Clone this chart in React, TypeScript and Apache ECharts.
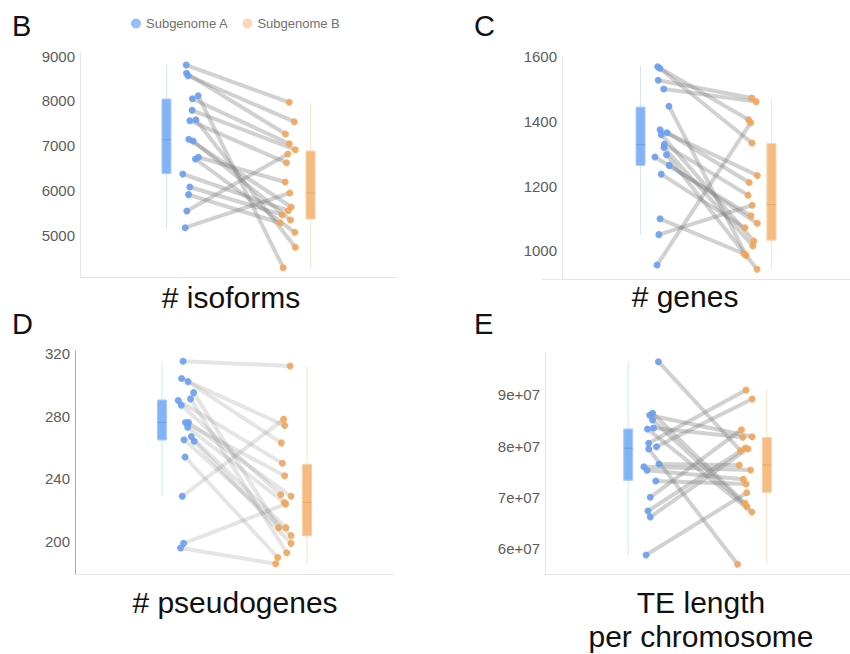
import React, { useEffect, useRef } from "react";
import * as echarts from "echarts";

// ---------- data ----------
const legendNames = ["Subgenome A", "Subgenome B"];
const categoryX = [0, 1];

// # isoforms
const isoformsA = [8799, 8613, 8560, 8047, 8114, 7787, 7556, 7578, 7140, 7103, 6701, 6739, 6366, 6076, 5905, 5540, 5168];
const isoformsB = [7966, 7259, 7534, 7042, 4275, 6908, 6618, 4730, 5629, 5339, 5065, 6188, 5547, 5458, 5272, 6812, 5942];
const isoformsJitterA = [0.137, 0.139, 0.15, 0.18, 0.22, 0.178, 0.162, 0.204, 0.155, 0.185, 0.201, 0.222, 0.113, 0.162, 0.153, 0.141, 0.13];
const isoformsJitterB = [-0.148, -0.174, -0.113, -0.148, -0.19, -0.106, -0.167, -0.106, -0.134, -0.139, -0.109, -0.176, -0.155, -0.197, -0.211, -0.158, -0.144];
const isoformsBoxA = [5160, 6373, 7132, 8040, 8800];
const isoformsBoxB = [4268, 5362, 5942, 6879, 7951];
const isoformsTicks = [5000, 6000, 7000, 8000, 9000];

// # genes
const genesA = [1569, 1564, 1527, 1500, 1447, 1374, 1359, 1365, 1329, 1319, 1297, 1290, 1264, 1237, 1099, 1050, 956];
const genesB = [1405, 1333, 1472, 1461, 986, 1233, 1030, 1211, 1172, 1015, 943, 1108, 1085, 1071, 991, 1141, 1396];
const genesJitterA = [0.131, 0.147, 0.135, 0.177, 0.217, 0.149, 0.158, 0.203, 0.182, 0.179, 0.198, 0.11, 0.219, 0.158, 0.149, 0.14, 0.126];
const genesJitterB = [-0.175, -0.149, -0.151, -0.117, -0.193, -0.108, -0.135, -0.17, -0.179, -0.142, -0.11, -0.156, -0.108, -0.203, -0.21, -0.147, -0.158];
const genesBoxA = [1050, 1264, 1328, 1444, 1569];
const genesBoxB = [943, 1033, 1143, 1331, 1470];
const genesTicks = [1000, 1200, 1400, 1600];

// # pseudogenes
const pseudoA = [315, 304, 302, 295, 291, 290, 287, 276, 276, 273, 265, 267, 264, 254, 229, 199, 196];
const pseudoB = [312, 274, 263, 209, 193, 250, 230, 242, 229, 225, 204, 209, 199, 190, 278, 224, 186];
const pseudoJitterA = [0.145, 0.135, 0.179, 0.218, 0.197, 0.112, 0.133, 0.161, 0.183, 0.177, 0.152, 0.202, 0.221, 0.159, 0.14, 0.149, 0.128];
const pseudoJitterB = [-0.117, -0.154, -0.177, -0.195, -0.14, -0.17, -0.181, -0.154, -0.11, -0.157, -0.11, -0.145, -0.11, -0.202, -0.161, -0.147, -0.216];
const pseudoBoxA = [229, 264.8, 276, 290.3, 315];
const pseudoBoxB = [186, 203.8, 225.1, 249.3, 312];
const pseudoTicks = [200, 240, 280, 320];

// TE length per chromosome
const teA = [96430000, 86380000, 85990000, 85070000, 83320000, 83510000, 80530000, 79870000, 79420000, 76500000, 75970000, 75270000, 73190000, 70010000, 67340000, 66170000, 58770000];
const teB = [79090000, 68840000, 81820000, 68180000, 67150000, 81700000, 90920000, 89160000, 56960000, 76240000, 75330000, 73520000, 72600000, 83180000, 79620000, 79480000, 70910000];
const teJitterA = [0.218, 0.176, 0.155, 0.176, 0.139, 0.183, 0.148, 0.204, 0.148, 0.222, 0.113, 0.136, 0.199, 0.159, 0.143, 0.159, 0.129];
const teJitterB = [-0.19, -0.157, -0.106, -0.143, -0.108, -0.173, -0.15, -0.106, -0.211, -0.199, -0.117, -0.169, -0.15, -0.183, -0.155, -0.136, -0.145];
const teBoxA = [58770000, 73320000, 79560000, 83320000, 96430000];
const teBoxB = [56960000, 70990000, 76300000, 81630000, 90920000];
const teTicks = [60000000, 70000000, 80000000, 90000000];

// ---------- styling ----------
const FONT = "'Liberation Sans', Arial, Helvetica, sans-serif";
const BLUE_PT = "#6a9fef";
const ORANGE_PT = "#f0a55c";
const BOX_STYLE = [
  { fill: "#82b3f6", edge: "#a9cbf9", median: "#6c9de8", whisker: "#d2e2fb" },
  { fill: "#f5bb80", edge: "#f8d0a6", median: "#eba664", whisker: "#fbe4cd" },
];

const panels = [
  {
    letter: "B", letterX: 12, letterY: 26,
    title: "# isoforms", titleX: 231, titleY: 297,
    a: isoformsA, b: isoformsB, ja: isoformsJitterA, jb: isoformsJitterB,
    boxA: isoformsBoxA, boxB: isoformsBoxB, ticks: isoformsTicks,
    min: 4060, max: 9067,
    grid: { left: 80, top: 53, width: 317, height: 224.3 },
    yLine: "#e4e4e4", lineOpacity: 0.36,
    fmt: (v: number) => String(v),
  },
  {
    letter: "C", letterX: 474, letterY: 26,
    title: "# genes", titleX: 685, titleY: 296,
    a: genesA, b: genesB, ja: genesJitterA, jb: genesJitterB,
    boxA: genesBoxA, boxB: genesBoxB, ticks: genesTicks,
    min: 912, max: 1602,
    grid: { left: 562, top: 56, width: 317, height: 223.3 },
    yLine: "#e4e4e4", lineOpacity: 0.36,
    fmt: (v: number) => String(v),
  },
  {
    letter: "D", letterX: 12, letterY: 324,
    title: "# pseudogenes", titleX: 235, titleY: 602,
    a: pseudoA, b: pseudoB, ja: pseudoJitterA, jb: pseudoJitterB,
    boxA: pseudoBoxA, boxB: pseudoBoxB, ticks: pseudoTicks,
    min: 179.3, max: 321.5,
    grid: { left: 75, top: 351, width: 319, height: 223.3 },
    yLine: "#a9a9a9", lineOpacity: 0.2,
    fmt: (v: number) => String(v),
  },
  {
    letter: "E", letterX: 474, letterY: 324,
    title: "TE length\nper chromosome", titleX: 701, titleY: 585.5,
    a: teA, b: teB, ja: teJitterA, jb: teJitterB,
    boxA: teBoxA, boxB: teBoxB, ticks: teTicks,
    min: 55010000, max: 98320000,
    grid: { left: 545, top: 352, width: 317, height: 222.3 },
    yLine: "#e4e4e4", lineOpacity: 0.36,
    fmt: (v: number) => `${Math.round(v / 1e7)}e+07`,
  },
];

function boxRender(params: any, api: any) {
  const x = api.value(0);
  const vals = [1, 2, 3, 4, 5].map((d) => api.value(d));
  const pMin = api.coord([x, vals[0]]);
  const pQ1 = api.coord([x, vals[1]]);
  const pMed = api.coord([x, vals[2]]);
  const pQ3 = api.coord([x, vals[3]]);
  const pMax = api.coord([x, vals[4]]);
  const s = BOX_STYLE[params.dataIndex];
  const w = 9;
  return {
    type: "group",
    children: [
      { type: "line", shape: { x1: pMin[0], y1: pMin[1], x2: pMax[0], y2: pMax[1] }, style: { stroke: s.whisker, lineWidth: 1 } },
      { type: "rect", shape: { x: pQ1[0] - w / 2, y: pQ3[1], width: w, height: pQ1[1] - pQ3[1] }, style: { fill: s.fill, stroke: s.edge, lineWidth: 1 } },
      { type: "line", shape: { x1: pMed[0] - w / 2, y1: pMed[1], x2: pMed[0] + w / 2, y2: pMed[1] }, style: { stroke: s.median, lineWidth: 1 } },
    ],
  };
}

function buildOption() {
  const grid = panels.map((p) => ({ ...p.grid }));
  const xAxis = panels.map((p, i) => ({
    type: "value", gridIndex: i, min: -0.6, max: 1.6,
    axisLine: { show: true, onZero: false, lineStyle: { color: "#e4e4e4", width: 1 } },
    axisTick: { show: false }, axisLabel: { show: false }, splitLine: { show: false },
  }));
  const yAxis = panels.map((p, i) => ({
    type: "value", gridIndex: i, min: p.min, max: p.max,
    axisLine: { show: true, onZero: false, lineStyle: { color: p.yLine, width: 1 } },
    axisTick: { show: false }, splitLine: { show: false },
    axisLabel: {
      customValues: p.ticks, formatter: p.fmt, fontSize: 15, color: "#5c5c5c",
      margin: 5, fontFamily: FONT,
    },
  }));
  const series: any[] = [];
  panels.forEach((p, i) => {
    series.push({
      type: "custom", xAxisIndex: i, yAxisIndex: i, silent: true, z: 1,
      encode: { x: 0, y: [1, 2, 3, 4, 5] },
      renderItem: boxRender,
      data: [[categoryX[0], ...p.boxA], [categoryX[1], ...p.boxB]],
    });
    series.push({
      type: "lines", coordinateSystem: "cartesian2d", xAxisIndex: i, yAxisIndex: i,
      silent: true, z: 2,
      lineStyle: { color: "#7f7f7f", width: 4, opacity: p.lineOpacity, cap: "round" },
      data: p.a.map((v, k) => ({
        coords: [[categoryX[0] + p.ja[k], v], [categoryX[1] + p.jb[k], p.b[k]]],
      })),
    });
    series.push({
      type: "scatter", name: legendNames[0], xAxisIndex: i, yAxisIndex: i, z: 3,
      symbolSize: 7, itemStyle: { color: BLUE_PT, opacity: 0.9 },
      data: p.a.map((v, k) => [categoryX[0] + p.ja[k], v]),
    });
    series.push({
      type: "scatter", name: legendNames[1], xAxisIndex: i, yAxisIndex: i, z: 3,
      symbolSize: 7, itemStyle: { color: ORANGE_PT, opacity: 0.9 },
      data: p.b.map((v, k) => [categoryX[1] + p.jb[k], v]),
    });
  });

  const graphic: any[] = [];
  panels.forEach((p) => {
    graphic.push({
      type: "text", x: p.letterX, y: p.letterY,
      style: { text: p.letter, fontSize: 29, fill: "#111", fontFamily: FONT, textVerticalAlign: "middle", verticalAlign: "middle" },
    });
    const multi = p.title.includes("\n");
    graphic.push({
      type: "text", x: p.titleX, y: p.titleY,
      style: {
        text: p.title, fontSize: 30, fill: "#111", fontFamily: FONT,
        align: "center", textAlign: "center",
        verticalAlign: multi ? "top" : "middle",
        textVerticalAlign: multi ? "top" : "middle",
        lineHeight: 34,
      },
    });
  });
  // x-axis line of panel C starts a little left of its y axis
  graphic.push({
    type: "line", shape: { x1: 541, y1: 279.3, x2: 562, y2: 279.3 },
    style: { stroke: "#e4e4e4", lineWidth: 1 },
  });

  return {
    animation: false,
    backgroundColor: "#ffffff",
    textStyle: { fontFamily: FONT },
    legend: {
      data: [
        { name: legendNames[0], itemStyle: { color: "#8bb8f8" } },
        { name: legendNames[1], itemStyle: { color: "#f9d3ae" } },
      ],
      icon: "circle", itemWidth: 10, itemHeight: 10, itemGap: 14,
      left: 126, top: 12,
      textStyle: { fontSize: 13, color: "#707070", fontFamily: FONT },
    },
    grid, xAxis, yAxis, series, graphic,
  };
}

export default function App() {
  const ref = useRef<HTMLDivElement>(null);
  useEffect(() => {
    document.body.style.margin = "0";
    const chart = echarts.init(ref.current as HTMLDivElement, null, { renderer: "svg" });
    chart.setOption(buildOption() as any);
    return () => chart.dispose();
  }, []);
  return <div ref={ref} style={{ width: 850, height: 654 }} />;
}
